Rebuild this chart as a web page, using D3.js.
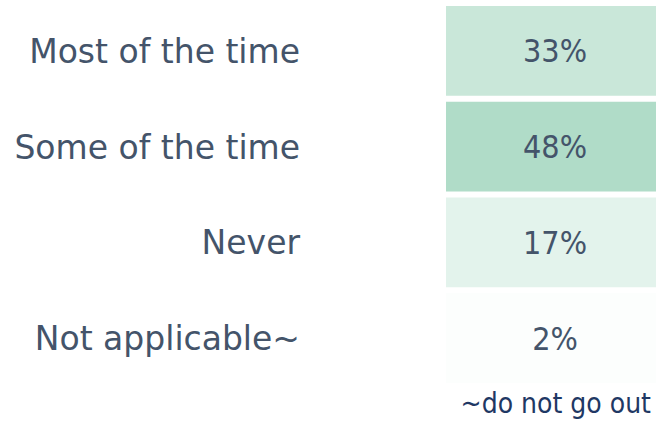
<!DOCTYPE html>
<html>
<head>
<meta charset="utf-8">
<script src="https://cdn.jsdelivr.net/npm/d3@7"></script>
<style>
  body { margin: 0; background: #fff; }
  svg { display: block; font-family: "DejaVu Sans", sans-serif; }
</style>
</head>
<body>
<script>
// data
var categories = ["Most of the time", "Some of the time", "Never", "Not applicable~"];
var values = [0.33, 0.48, 0.17, 0.02];
var footnote = "~do not go out";

var svgWidth = 656;
var svgHeight = 427;

var svg = d3.select("body")
  .append("svg")
  .attr("width", svgWidth)
  .attr("height", svgHeight);

// scales
var yScale = d3.scaleBand()
  .domain(categories)
  .range([6, 383])
  .paddingInner(0.0626)
  .paddingOuter(0);

var xLeft = 446, xRight = 664;

var colorScale = d3.scaleLinear()
  .domain([0, d3.max(values)])
  .range(["#ffffff", "#b0dcc8"]);

var rows = categories.map(function(c, i) { return { cat: c, value: values[i] }; });

// cells
svg.selectAll("rect.cell")
  .data(rows)
  .enter()
  .append("rect")
  .attr("class", "cell")
  .attr("x", xLeft)
  .attr("y", d => yScale(d.cat))
  .attr("width", xRight - xLeft)
  .attr("height", yScale.bandwidth())
  .attr("fill", d => colorScale(d.value));

// value labels
svg.selectAll("text.val")
  .data(rows)
  .enter()
  .append("text")
  .attr("class", "val")
  .attr("x", 555)
  .attr("y", d => yScale(d.cat) + yScale.bandwidth() / 2)
  .attr("dy", "0.36em")
  .attr("text-anchor", "middle")
  .style("font-family", "'DejaVu Sans Condensed', 'DejaVu Sans', sans-serif")
  .style("font-size", "32px")
  .style("fill", "#44546a")
  .text(d => d3.format(".0%")(d.value));

// category labels
var yAxis = d3.axisLeft(yScale).tickSize(0).tickPadding(0);
var axisG = svg.append("g")
  .attr("transform", "translate(300,0)")
  .call(yAxis)
  .attr("font-family", null)
  .attr("font-size", null);
axisG.select(".domain").remove();
axisG.selectAll("text")
  .attr("dy", "0.36em")
  .style("font-family", "'DejaVu Sans', sans-serif")
  .style("font-size", "33px")
  .style("fill", "#44546a");

// footnote
svg.append("text")
  .attr("x", 651)
  .attr("y", 413)
  .attr("text-anchor", "end")
  .style("font-family", "'DejaVu Sans Condensed', 'DejaVu Sans', sans-serif")
  .style("font-size", "28px")
  .style("fill", "#1f3864")
  .text(footnote);
</script>
</body>
</html>
